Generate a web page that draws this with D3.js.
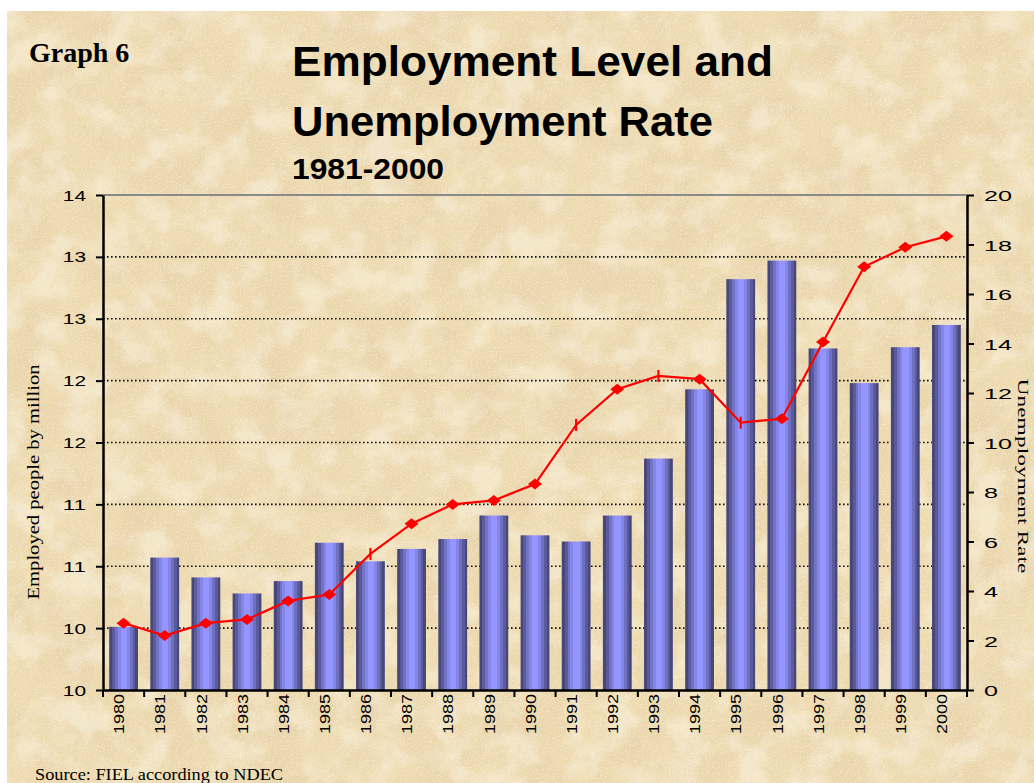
<!DOCTYPE html>
<html>
<head>
<meta charset="utf-8">
<script src="https://cdn.jsdelivr.net/npm/d3@7"></script>
<style>
  body { margin: 0; background: #fff; }
  svg { display: block; }
</style>
</head>
<body>
<script>
// data
const years = ["1980","1981","1982","1983","1984","1985","1986","1987","1988","1989","1990",
               "1991","1992","1993","1994","1995","1996","1997","1998","1999","2000"];
const employed = [10.51, 11.07, 10.91, 10.78, 10.88, 11.19, 11.04, 11.14, 11.22, 11.41, 11.25,
                  11.20, 11.41, 11.87, 12.43, 13.32, 13.47, 12.76, 12.48, 12.77, 12.95];
const unemployment = [2.7, 2.2, 2.7, 2.85, 3.6, 3.86, 5.5, 6.72, 7.5, 7.66, 8.32,
                      10.71, 12.15, 12.69, 12.56, 10.8, 10.96, 14.06, 17.1, 17.89, 18.33];
// points drawn as a small upright tick instead of a diamond in the original
const tickMarkYears = ["1986", "1991", "1993", "1995"];
const leftTicks = [10, 10.5, 11, 11.5, 12, 12.5, 13, 13.5, 14];
const leftTickLabels = ["10", "10", "11", "11", "12", "12", "13", "13", "14"];
const rightTicks = [0, 2, 4, 6, 8, 10, 12, 14, 16, 18, 20];

// common dimensions
const W = 1034, H = 783;
const margin = {top: 195, left: 103},
    width = 864,
    height = 495;

const svg = d3.select("body")
  .append("svg")
    .attr("width", W)
    .attr("height", H);

const defs = svg.append("defs");

// parchment texture
const paper = defs.append("filter").attr("id", "paper")
    .attr("x", 0).attr("y", 0).attr("width", "100%").attr("height", "100%");
paper.append("feTurbulence").attr("type", "fractalNoise")
    .attr("baseFrequency", "0.02").attr("numOctaves", 5).attr("seed", 7);
paper.append("feColorMatrix").attr("type", "matrix")
    .attr("values", "0 0 0 0 0.80  0 0 0 0 0.64  0 0 0 0 0.40  3.2 0 0 0 -1.3");

const light = defs.append("filter").attr("id", "light")
    .attr("x", 0).attr("y", 0).attr("width", "100%").attr("height", "100%");
light.append("feTurbulence").attr("type", "fractalNoise")
    .attr("baseFrequency", "0.03").attr("numOctaves", 4).attr("seed", 11);
light.append("feColorMatrix").attr("type", "matrix")
    .attr("values", "0 0 0 0 0.98  0 0 0 0 0.93  0 0 0 0 0.80  3.2 0 0 0 -1.4");

const grain = defs.append("filter").attr("id", "grain")
    .attr("x", 0).attr("y", 0).attr("width", "100%").attr("height", "100%");
grain.append("feTurbulence").attr("type", "fractalNoise")
    .attr("baseFrequency", "0.55").attr("numOctaves", 2).attr("seed", 2);
grain.append("feColorMatrix").attr("type", "matrix")
    .attr("values", "0 0 0 0 0.99  0 0 0 0 0.96  0 0 0 0 0.86  3 0 0 0 -1.55");

// bar shading, cylinder like bands
const grad = defs.append("linearGradient").attr("id", "barGrad")
    .attr("x1", "0%").attr("x2", "100%").attr("y1", "0%").attr("y2", "0%");
[[0, "#474779"], [0.1, "#474779"], [0.1, "#5a5a9c"], [0.2, "#5a5a9c"], [0.2, "#7373c6"],
 [0.3, "#7373c6"], [0.3, "#8686e8"], [0.4, "#8686e8"], [0.4, "#9595ff"], [0.62, "#9595ff"],
 [0.62, "#8686e6"], [0.72, "#8686e6"], [0.72, "#7070c0"], [0.82, "#7070c0"],
 [0.82, "#5a5a9c"], [0.91, "#5a5a9c"], [0.91, "#484878"], [1, "#484878"]]
  .forEach(s => grad.append("stop").attr("offset", s[0]).attr("stop-color", s[1]));

// background
const bg = () => svg.append("rect").attr("x", 7).attr("y", 11)
    .attr("width", W - 7).attr("height", H - 11);
bg().attr("fill", "#eddab0");
bg().attr("filter", "url(#paper)").attr("opacity", 0.65);
bg().attr("filter", "url(#light)").attr("opacity", 0.45);
bg().attr("filter", "url(#grain)").attr("opacity", 0.5);

// titles
svg.append("text").attr("x", 29).attr("y", 62)
    .attr("font-family", "Liberation Serif").attr("font-weight", "bold").attr("font-size", "28px")
    .text("Graph 6");
svg.append("text").attr("x", 292).attr("y", 76)
    .attr("font-family", "Liberation Sans").attr("font-weight", "bold").attr("font-size", "43px")
    .attr("textLength", 481).attr("lengthAdjust", "spacingAndGlyphs")
    .text("Employment Level and");
svg.append("text").attr("x", 292).attr("y", 136)
    .attr("font-family", "Liberation Sans").attr("font-weight", "bold").attr("font-size", "43px")
    .attr("textLength", 421).attr("lengthAdjust", "spacingAndGlyphs")
    .text("Unemployment Rate");
svg.append("text").attr("x", 292).attr("y", 179)
    .attr("font-family", "Liberation Sans").attr("font-weight", "bold").attr("font-size", "30px")
    .attr("textLength", 152).attr("lengthAdjust", "spacingAndGlyphs")
    .text("1981-2000");

const g = svg.append("g")
    .attr("transform", "translate(" + margin.left + "," + margin.top + ")");

// scales
const x = d3.scaleBand()
    .domain(years)
    .range([0, width])
    .paddingInner(0.3)
    .paddingOuter(0.15);
const yL = d3.scaleLinear().domain([10, 14]).range([height, 0]);
const yR = d3.scaleLinear().domain([0, 20]).range([height, 0]);

// grid lines
g.selectAll(".grid")
  .data(leftTicks.filter(d => d > 10 && d < 14))
  .enter()
  .append("line")
    .attr("x1", 0).attr("x2", width)
    .attr("y1", d => yL(d)).attr("y2", d => yL(d))
    .attr("stroke", "#111").attr("stroke-width", 1.6)
    .attr("stroke-dasharray", "1.6,2.4");
g.append("line")
    .attr("x1", 0).attr("x2", width)
    .attr("y1", yL(14)).attr("y2", yL(14))
    .attr("stroke", "#8a8a8a").attr("stroke-width", 2);

// bars
g.selectAll(".bar")
  .data(years)
  .enter()
  .append("rect")
    .attr("x", d => x(d))
    .attr("y", (d, i) => yL(employed[i]))
    .attr("width", x.bandwidth())
    .attr("height", (d, i) => height - yL(employed[i]))
    .attr("fill", "url(#barGrad)");

// unemployment line
const cx = d => x(d) + x.bandwidth() / 2;
const line = d3.line()
    .x((d, i) => cx(years[i]))
    .y(d => yR(d));
g.append("path")
    .datum(unemployment)
    .attr("d", line)
    .attr("fill", "none")
    .attr("stroke", "#ff0000")
    .attr("stroke-width", 2.2);

const pts = years.map((d, i) => ({year: d, v: unemployment[i]}));
g.selectAll(".dot")
  .data(pts.filter(p => tickMarkYears.indexOf(p.year) < 0))
  .enter()
  .append("path")
    .attr("d", "M-7,0L0,-5.5L7,0L0,5.5Z")
    .attr("transform", p => "translate(" + cx(p.year) + "," + yR(p.v) + ")")
    .attr("fill", "#ff0000");
g.selectAll(".tickmark")
  .data(pts.filter(p => tickMarkYears.indexOf(p.year) >= 0))
  .enter()
  .append("line")
    .attr("x1", p => cx(p.year)).attr("x2", p => cx(p.year))
    .attr("y1", p => yR(p.v) - 6).attr("y2", p => yR(p.v) + 6)
    .attr("stroke", "#ff0000").attr("stroke-width", 2.2);

// left axis
const axL = g.append("g")
    .call(d3.axisLeft(yL).tickValues(leftTicks)
      .tickFormat((d, i) => leftTickLabels[i]).tickSize(7).tickSizeOuter(0).tickPadding(10));
axL.select(".domain").attr("stroke", "#000").attr("stroke-width", 2.5);
axL.selectAll(".tick line").attr("stroke", "#000").attr("stroke-width", 2);
axL.selectAll(".tick text")
    .attr("font-family", "Liberation Sans").attr("font-size", "14px").attr("fill", "#000")
    .attr("dy", "0.36em")
    .attr("textLength", d => 11.6 * 2).attr("lengthAdjust", "spacingAndGlyphs");

// right axis
const axR = g.append("g")
    .attr("transform", "translate(" + width + ",0)")
    .call(d3.axisRight(yR).tickValues(rightTicks).tickSize(7).tickSizeOuter(0).tickPadding(10));
axR.select(".domain").attr("stroke", "#000").attr("stroke-width", 2.5);
axR.selectAll(".tick line").attr("stroke", "#000").attr("stroke-width", 2);
axR.selectAll(".tick text")
    .attr("font-family", "Liberation Sans").attr("font-size", "15px").attr("fill", "#000")
    .attr("dy", "0.38em")
    .attr("textLength", d => 14 * String(d).length).attr("lengthAdjust", "spacingAndGlyphs");

// bottom axis, ticks sit between the years
const axB = g.append("g")
    .attr("transform", "translate(0," + height + ")")
    .call(d3.axisBottom(x).tickSize(0).tickSizeOuter(0));
axB.select(".domain").attr("stroke", "#000").attr("stroke-width", 2.5);
axB.selectAll(".tick text")
    .attr("font-family", "Liberation Sans").attr("font-size", "15px").attr("fill", "#000")
    .attr("transform", "rotate(-90)")
    .attr("text-anchor", "end")
    .attr("x", -4).attr("y", 0).attr("dy", "0.05em")
    .attr("textLength", 40).attr("lengthAdjust", "spacingAndGlyphs");
const bounds = years.map(d => x(d) - (x.step() - x.bandwidth()) / 2).concat([width]);
axB.selectAll(".sep")
  .data(bounds)
  .enter()
  .append("line")
    .attr("x1", d => d).attr("x2", d => d)
    .attr("y1", 0).attr("y2", 7)
    .attr("stroke", "#000").attr("stroke-width", 2);

// axis titles
svg.append("text")
    .attr("transform", "translate(39,482) rotate(-90)")
    .attr("text-anchor", "middle")
    .attr("font-family", "Liberation Serif").attr("font-size", "16px")
    .attr("textLength", 235).attr("lengthAdjust", "spacingAndGlyphs")
    .text("Employed people by million");
svg.append("text")
    .attr("transform", "translate(1018,476) rotate(90)")
    .attr("text-anchor", "middle")
    .attr("font-family", "Liberation Serif").attr("font-size", "15px")
    .attr("textLength", 195).attr("lengthAdjust", "spacingAndGlyphs")
    .text("Unemployment Rate");

// source
svg.append("text")
    .attr("x", 35).attr("y", 780)
    .attr("font-family", "Liberation Serif").attr("font-size", "16px")
    .attr("textLength", 248).attr("lengthAdjust", "spacingAndGlyphs")
    .text("Source: FIEL according to NDEC");
</script>
</body>
</html>
